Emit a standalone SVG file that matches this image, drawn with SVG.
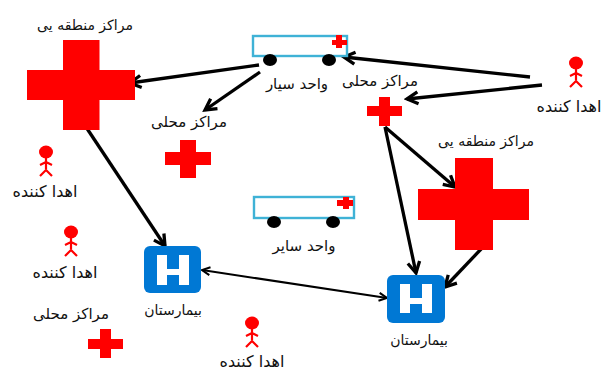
<svg xmlns="http://www.w3.org/2000/svg" width="604" height="372" viewBox="0 0 604 372">
<style>
.l{font-family:"DejaVu Sans","Noto Sans",sans-serif;font-size:14px;fill:#111;text-anchor:middle;direction:rtl}
.m{font-size:15px}
.d{font-size:16px}
.c{fill:#f00}
.t{fill:#fff;stroke:#3fb2d6;stroke-width:2.4}
.w{fill:#000}
.p{fill:none;stroke:#f00;stroke-width:2.2}
.h{fill:#0078d4}
.a{fill:none;stroke:#000;stroke-width:3.300;marker-end:url(#m)}
.b{fill:none;stroke:#000;stroke-width:2;marker-end:url(#n);marker-start:url(#s)}
</style>
<defs>
<marker id="m" markerUnits="userSpaceOnUse" markerWidth="18" markerHeight="18" refX="15" refY="9" orient="auto"><path d="M4 3L15 9L4 15" fill="none" stroke="#000" stroke-width="3.300"/></marker>
<marker id="n" markerUnits="userSpaceOnUse" markerWidth="14" markerHeight="14" refX="11" refY="7" orient="auto"><path d="M3 3L11 7L3 11" fill="none" stroke="#000" stroke-width="2"/></marker>
<marker id="s" markerUnits="userSpaceOnUse" markerWidth="14" markerHeight="14" refX="3" refY="7" orient="auto"><path d="M11 3L3 7L11 11" fill="none" stroke="#000" stroke-width="2"/></marker>
<g id="person"><ellipse cx="0" cy="7" rx="7" ry="6.500" class="c"/><path class="p" d="M0 13V24M-6 20L0 17L6 20M-6 31L0 25L6 31"/></g>
</defs>
<g id="connectors">
<path class="a" d="M259 65L130 83"/>
<path class="a" d="M260 72L205 110"/>
<path class="a" d="M530 77L344 57"/>
<path class="a" d="M542 85L407 99"/>
<path class="a" d="M86 127L165 246"/>
<path class="a" d="M385 127L455 187"/>
<path class="a" d="M385 127L416 273"/>
<path class="a" d="M483 247L445 287"/>
<path class="b" d="M202 270L387 298"/>
</g>
<g id="regional-center-1"><path class="c" d="M63 40H99.500V70H135V100H99.500V130H63V100H27V70H63Z"/><text class="l" x="85" y="30">مراکز منطقه یی</text></g>
<g id="mobile-unit-1"><rect class="t" x="253" y="36" width="94" height="20"/><path class="c" d="M336 35H342V40H347V45H342V48H336V45H332V40H336Z"/><ellipse class="w" cx="270" cy="60" rx="7" ry="6"/><ellipse class="w" cx="329" cy="60" rx="7" ry="6"/><text class="l m" x="297" y="89">واحد سیار</text></g>
<g id="local-center-1"><path class="c" d="M180 140H196V152H211V165H196V178H180V165H165V152H180Z"/><text class="l m" x="189" y="127">مراکز محلی</text></g>
<g id="local-center-2"><path class="c" d="M379 97H390V106H402V116H390V126H379V116H367V106H379Z"/><text class="l m" x="380" y="86">مراکز محلی</text></g>
<g id="regional-center-2"><path class="c" d="M455 158H493V189H529V220H493V250H455V220H418V189H455Z"/><text class="l" x="486" y="146">مراکز منطقه یی</text></g>
<g id="mobile-unit-2"><rect class="t" x="254" y="197" width="100" height="21"/><path class="c" d="M343 197H349V200H353V206H349V209H343V206H337V200H343Z"/><ellipse class="w" cx="274" cy="222" rx="7" ry="6"/><ellipse class="w" cx="333" cy="222" rx="7" ry="6"/><text class="l m" x="304" y="251">واحد سایر</text></g>
<g id="donor-1"><use href="#person" x="576" y="56"/><text class="l d" x="569" y="112">اهدا کننده</text></g>
<g id="donor-2"><use href="#person" x="46" y="145"/><text class="l d" x="45" y="197">اهدا کننده</text></g>
<g id="donor-3"><use href="#person" x="71" y="225"/><text class="l d" x="65" y="278">اهدا کننده</text></g>
<g id="donor-4"><use href="#person" x="252" y="316"/><text class="l d" x="252" y="367">اهدا کننده</text></g>
<g id="local-center-3"><path class="c" d="M100 329H111V339H123V349H111V358H100V349H88V339H100Z"/><text class="l m" x="71" y="319">مراکز محلی</text></g>
<g id="hospital-1"><rect class="h" x="144" y="246" width="57" height="47" rx="6"/><path fill="#fff" d="M157 255H167V269H179V255H189V285H179V275H167V285H157Z"/><text class="l" x="173" y="315">بیمارستان</text></g>
<g id="hospital-2"><rect class="h" x="387" y="275" width="58" height="48" rx="6"/><path fill="#fff" d="M400 284H410V298H422V284H432V313H422V304H410V313H400Z"/><text class="l" x="419" y="345">بیمارستان</text></g>
</svg>
